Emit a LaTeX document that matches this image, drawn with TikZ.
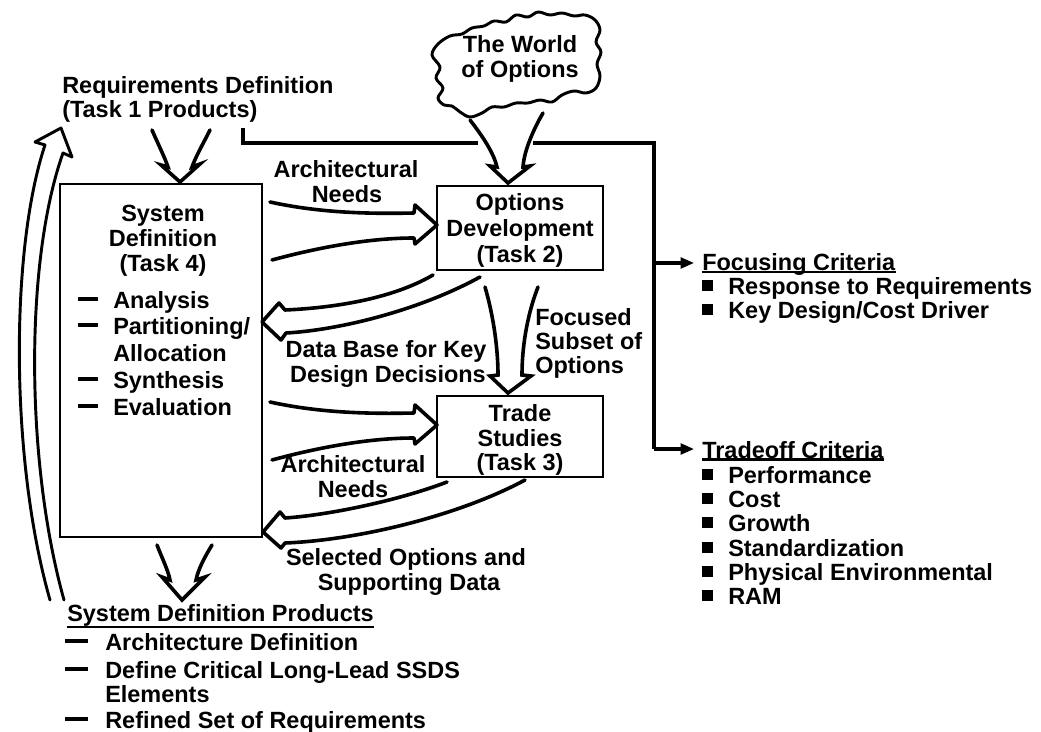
\documentclass[tikz,border=0pt]{standalone}
\usepackage{fontspec}
\setmainfont{Liberation Sans}
\usetikzlibrary{arrows.meta}

\tikzset{
  txt/.style={font=\bfseries\fontsize{17.6}{18.8}\selectfont, inner sep=0pt},
  taskbox/.style={draw, line width=2.2pt, inner sep=0pt},
  fat/.style={line width=2.7pt, line join=round, line cap=round},
  bolt/.style={line width=2.7pt, line join=miter, line cap=round},
  feed/.style={line width=2.3pt, line join=miter},
  feedarrow/.style={line width=2.3pt, -{Triangle[length=10pt,width=8pt]}},
  uline/.style={line width=2pt},
}
% dash and bullet markers for the lists
\newcommand{\boxdash}{\makebox[26.25pt][l]{\rule[5.3pt]{15pt}{2.6pt}}}
\newcommand{\listdash}{\makebox[30pt][l]{\rule[5.3pt]{17pt}{2.6pt}}}
\newcommand{\sqbullet}{\makebox[19.5pt][l]{\rule[2pt]{8.2pt}{8.2pt}}}

\begin{document}
\begin{tikzpicture}[x=0.75pt,y=-0.75pt]
\useasboundingbox (0,0) rectangle (1041,731);

% ---- task boxes
\node[taskbox, minimum width=202*0.75pt, minimum height=353*0.75pt] (sys) at (161,360.5) {};
\node[taskbox, minimum width=166*0.75pt, minimum height=84*0.75pt] (opt) at (520,228) {};
\node[taskbox, minimum width=166*0.75pt, minimum height=81*0.75pt] (trd) at (520,436.5) {};

% ---- the world of options (cloud)
\draw[line width=2.2pt, line join=round] plot[smooth cycle, tension=0.6] coordinates {
 (432,55) (438,44) (450,36) (462,34) (472,28) (484,26) (494,21) (506,22)
 (516,15) (528,17) (538,12) (550,15) (562,13) (574,16) (585,15) (595,20)
 (600,30) (596,42) (601,52) (597,64) (600,76) (596,88) (586,93) (574,91)
 (562,95) (552,102) (540,100) (528,103) (516,103) (504,107) (492,107)
 (482,113) (470,117) (460,112) (452,106) (444,105) (438,98) (443,88)
 (436,78) (440,67)};
\node[txt, anchor=base] (wo1) at (520,53) {The World};
\node[txt, anchor=base] (wo2) at (520,78) {of Options};

% ---- requirements definition
\node[txt, anchor=base west] (req1) at (62,94) {Requirements Definition};
\node[txt, anchor=base west] (req2) at (62,118) {(Task 1 Products)};

% ---- system definition box text
\node[txt, anchor=base] (s1) at (163,221) {System};
\node[txt, anchor=base] (s2) at (163,246) {Definition};
\node[txt, anchor=base] (s3) at (163,271) {(Task 4)};
\node[txt, anchor=base west] (si1) at (78,308) {\boxdash Analysis};
\node[txt, anchor=base west] (si2) at (78,334) {\boxdash Partitioning/};
\node[txt, anchor=base west] (si3) at (113,361) {Allocation};
\node[txt, anchor=base west] (si4) at (78,388) {\boxdash Synthesis};
\node[txt, anchor=base west] (si5) at (78,415) {\boxdash Evaluation};

% ---- options development / trade studies text
\node[txt, anchor=base] (o1) at (520,210) {Options};
\node[txt, anchor=base] (o2) at (520,236) {Development};
\node[txt, anchor=base] (o3) at (520,262) {(Task 2)};
\node[txt, anchor=base] (t1) at (520,421) {Trade};
\node[txt, anchor=base] (t2) at (520,446) {Studies};
\node[txt, anchor=base] (t3) at (520,470) {(Task 3)};

% ---- flow labels
\node[txt, anchor=base] (an1) at (346,177) {Architectural};
\node[txt, anchor=base] (an2) at (347,202) {Needs};
\node[txt, anchor=base] (db1) at (386,357) {Data Base for Key};
\node[txt, anchor=base] (db2) at (388,382) {Design Decisions};
\node[txt, anchor=base west] (fs1) at (535,325) {Focused};
\node[txt, anchor=base west] (fs2) at (535,349) {Subset of};
\node[txt, anchor=base west] (fs3) at (535,373) {Options};
\node[txt, anchor=base] (bn1) at (353,472) {Architectural};
\node[txt, anchor=base] (bn2) at (353,497) {Needs};
\node[txt, anchor=base] (so1) at (406,565) {Selected Options and};
\node[txt, anchor=base] (so2) at (409,590) {Supporting Data};

% ---- criteria lists
\node[txt, anchor=base west] (fc) at (702,270) {Focusing Criteria};
\draw[uline] ([yshift=-1.5pt]fc.base west) -- ([yshift=-1.5pt]fc.base east);
\node[txt, anchor=base west] (fc1) at (702,294) {\sqbullet Response to Requirements};
\node[txt, anchor=base west] (fc2) at (702,318) {\sqbullet Key Design/Cost Driver};

\node[txt, anchor=base west] (tc) at (702,458) {Tradeoff Criteria};
\draw[uline] ([yshift=-1.2pt]tc.base west) -- ([yshift=-1.2pt]tc.base east);
\foreach \i/\y/\t in {1/483/Performance, 2/507/Cost, 3/531/Growth,
                      4/556/Standardization, 5/580/Physical Environmental, 6/604/RAM}
  \node[txt, anchor=base west] (tc\i) at (702,\y) {\sqbullet \t};

% ---- system definition products
\node[txt, anchor=base west] (sdp) at (67,621) {System Definition Products};
\draw[uline] ([yshift=-4.5pt]sdp.base west) -- ([yshift=-4.5pt]sdp.base east);
\node[txt, anchor=base west] (sdp1) at (65,650) {\listdash Architecture Definition};
\node[txt, anchor=base west] (sdp2) at (65,678) {\listdash Define Critical Long-Lead SSDS};
\node[txt, anchor=base west] (sdp3) at (105,702) {Elements};
\node[txt, anchor=base west] (sdp4) at (65,728) {\listdash Refined Set of Requirements};

% ---- requirements feed to the criteria
\coordinate (tap) at (243,128);
\coordinate (gapL) at (478,143);
\coordinate (gapR) at (533,143);
\coordinate (corner) at (654,143);
\coordinate (fcj) at (654,263);
\coordinate (tcj) at (654,449);
\draw[feed] (tap) -- (tap |- gapL) -- (gapL);
\draw[feed] (gapR) -- (corner) -- (tcj);
\draw[feedarrow] (fcj) -- ([xshift=-6pt]fc.west |- fcj);
\draw[feedarrow] (tcj) -- ([xshift=-6pt]tc.west |- tcj);

% ---- split-shaft arrows (requirements -> system, cloud -> options,
%      options -> trade studies, system -> products)
\draw[bolt] (152,130) .. controls (159,146) and (165,158) .. (168,167) -- (161,165) -- (180,182) -- (200,164) -- (192,167) .. controls (196,156) and (203,144) .. (210,130);
\draw[bolt] (470,120) .. controls (484,138) and (494,154) .. (497,167) -- (490,166) -- (508,183) -- (530,166) -- (523,167) .. controls (524,152) and (532,132) .. (543,113);
\draw[bolt] (485,287) .. controls (494,318) and (498,350) .. (498,375) -- (490,376) -- (508,393) -- (531,376) -- (522,375) .. controls (522,350) and (526,318) .. (538,287);
\draw[bolt] (157,545) .. controls (162,558) and (168,570) .. (170,580) -- (162,577) -- (182,600) -- (205,577) -- (196,580) .. controls (198,570) and (204,558) .. (212,545);

% ---- broad hollow arrows between the tasks
\draw[fat] (270,202) .. controls (320,213) and (370,214) .. (414,213) -- (415,205) -- (437,225) -- (415,244) -- (414,238) .. controls (370,238) and (320,247) .. (272,260);
\draw[fat] (270,402) .. controls (320,413) and (370,414) .. (414,413) -- (415,405) -- (437,425) -- (415,444) -- (414,438) .. controls (370,438) and (320,447) .. (272,460);
\draw[fat] (433,275) .. controls (390,300) and (330,308) .. (285,310) -- (279,303) -- (262,322) -- (281,340) -- (286,333) .. controls (340,330) and (420,310) .. (480,277);
\draw[fat] (447,482) .. controls (400,500) and (330,515) .. (285,518) -- (280,512) -- (263,532) -- (281,548) -- (285,543) .. controls (360,540) and (460,515) .. (525,480);

% ---- feedback arrow up the left side
\draw[line width=2.2pt, line join=round, line cap=round]
  (50,600) .. controls (10,460) and (10,250) .. (45,145) -- (35,142) -- (61,128)
  -- (72,157) -- (63,153) .. controls (25,260) and (25,460) .. (64,600);
\end{tikzpicture}
\end{document}
